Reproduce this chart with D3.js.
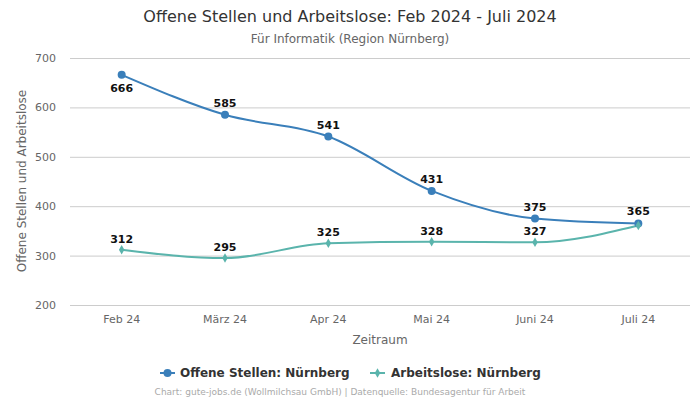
<!DOCTYPE html>
<html><head><meta charset="utf-8">
<script src="https://cdn.jsdelivr.net/npm/d3@7"></script>
<style>body{margin:0;background:#fff;font-family:"DejaVu Sans",sans-serif;}</style>
</head><body><svg id="c" width="700" height="400"></svg>
<script>
const categories = ["Feb 24","März 24","Apr 24","Mai 24","Juni 24","Juli 24"];
const offeneStellen = [666,585,541,431,375,365];
const arbeitslose = [312,295,325,328,327,361];
const yTicks = [200,300,400,500,600,700];
const seriesNames = ["Offene Stellen: Nürnberg","Arbeitslose: Nürnberg"];
const colors = ["#3a7fba","#5ab4ac"];

const svg = d3.select("#c");
const m = {l:70, r:690, t:58, b:305};
const x = d3.scaleBand().domain(categories).range([m.l,m.r]);
const y = d3.scaleLinear().domain([200,700]).range([m.b,m.t]);
const cx = d => x(d)+x.bandwidth()/2;

svg.append("text").attr("x",350).attr("y",22).attr("text-anchor","middle")
  .attr("font-size",16).attr("fill","#333").text("Offene Stellen und Arbeitslose: Feb 2024 - Juli 2024");
svg.append("text").attr("x",350).attr("y",43).attr("text-anchor","middle")
  .attr("font-size",12).attr("fill","#666").text("Für Informatik (Region Nürnberg)");

const ya = svg.append("g").attr("transform",`translate(${m.l},0)`)
  .call(d3.axisLeft(y).tickValues(yTicks).tickSize(-(m.r-m.l)).tickPadding(14));
ya.select(".domain").remove();
ya.selectAll("line").attr("stroke","#ccc");
ya.selectAll("text").attr("font-size",11).attr("fill","#666").attr("font-family","DejaVu Sans");

const xa = svg.append("g").attr("transform",`translate(0,${m.b})`)
  .call(d3.axisBottom(x).tickSize(0).tickPadding(10));
xa.select(".domain").remove();
xa.selectAll("text").attr("font-size",11).attr("fill","#666").attr("font-family","DejaVu Sans");

svg.append("text").attr("transform","translate(26,181) rotate(-90)").attr("text-anchor","middle")
  .attr("font-size",12).attr("fill","#666").text("Offene Stellen und Arbeitslose");
svg.append("text").attr("x",380).attr("y",344).attr("text-anchor","middle")
  .attr("font-size",12).attr("fill","#666").text("Zeitraum");

const line = d3.line().x((d,i)=>cx(categories[i])).y(d=>y(d)).curve(d3.curveMonotoneX);

const series = [offeneStellen, arbeitslose];
series.forEach((s,k)=>{
  svg.append("path").datum(s).attr("d",line).attr("fill","none").attr("stroke",colors[k]).attr("stroke-width",2);
});
svg.selectAll(".m1").data(offeneStellen).enter().append("circle")
  .attr("cx",(d,i)=>cx(categories[i])).attr("cy",d=>y(d)).attr("r",4).attr("fill",colors[0]);
svg.selectAll(".m2").data(arbeitslose).enter().append("path")
  .attr("d",d3.symbol().type(d3.symbolDiamond).size(26))
  .attr("transform",(d,i)=>`translate(${cx(categories[i])},${y(d)})`).attr("fill",colors[1]);

svg.selectAll(".l1").data(offeneStellen).enter().append("text")
  .attr("x",(d,i)=>cx(categories[i])).attr("y",(d,i)=> i===0 ? y(d)+17 : y(d)-8)
  .attr("text-anchor","middle").attr("font-size",11).attr("font-weight","bold").attr("fill","#111")
  .text(d=>d);
svg.selectAll(".l2").data(arbeitslose.slice(0,5)).enter().append("text")
  .attr("x",(d,i)=>cx(categories[i])).attr("y",d=>y(d)-7)
  .attr("text-anchor","middle").attr("font-size",11).attr("font-weight","bold").attr("fill","#111")
  .text(d=>d);

const leg = [{x:160,tx:180},{x:370,tx:391}];
leg.forEach((L,k)=>{
  const g = svg.append("g");
  g.append("line").attr("x1",L.x).attr("x2",L.x+15).attr("y1",373).attr("y2",373).attr("stroke",colors[k]).attr("stroke-width",2);
  if(k===0) g.append("circle").attr("cx",L.x+7.5).attr("cy",373).attr("r",4).attr("fill",colors[k]);
  else g.append("path").attr("d",d3.symbol().type(d3.symbolDiamond).size(26)).attr("transform",`translate(${L.x+7.5},373)`).attr("fill",colors[k]);
  g.append("text").attr("x",L.tx).attr("y",377).attr("font-size",12).attr("font-weight","bold").attr("fill","#333").text(seriesNames[k]);
});
svg.append("text").attr("x",340).attr("y",395).attr("text-anchor","middle").attr("font-size",9).attr("fill","#aaa")
  .text("Chart: gute-jobs.de (Wollmilchsau GmbH) | Datenquelle: Bundesagentur für Arbeit");
</script></body></html>
